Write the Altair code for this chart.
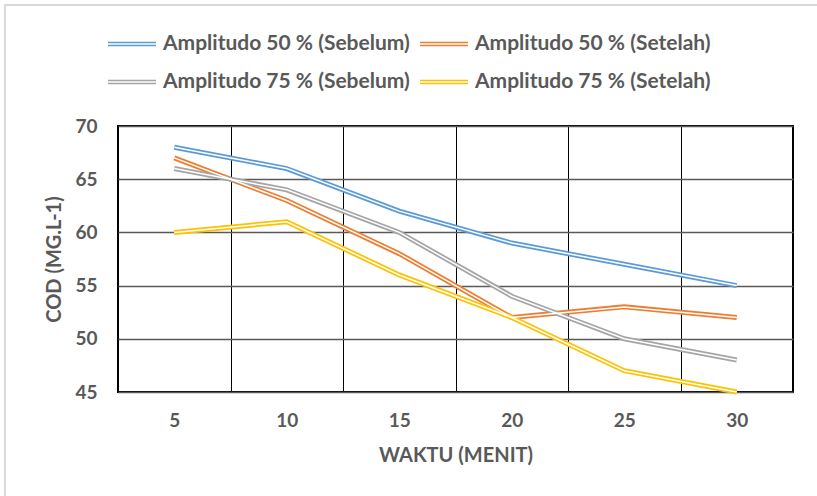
import altair as alt
import pandas as pd

waktu = [5, 10, 15, 20, 25, 30]
series_names = [
    "Amplitudo 50 % (Sebelum)",
    "Amplitudo 50 % (Setelah)",
    "Amplitudo 75 % (Sebelum)",
    "Amplitudo 75 % (Setelah)",
]
a50_sebelum = [68, 66, 62, 59, 57, 55]
a50_setelah = [67, 63, 58, 52, 53, 52]
a75_sebelum = [66, 64, 60, 54, 50, 48]
a75_setelah = [60, 61, 56, 52, 47, 45]
colors = ["#5B9BD5", "#ED7D31", "#A5A5A5", "#FFC000"]
y_ticks = [45, 50, 55, 60, 65, 70]

rows = []
for i, (name, vals) in enumerate(zip(series_names, [a50_sebelum, a50_setelah, a75_sebelum, a75_setelah])):
    for w, v in zip(waktu, vals):
        rows.append({"waktu": w, "cod": v, "series": name, "order": i})
df = pd.DataFrame(rows)

FONT = "Lato"
TXT = "#595959"

x_enc = alt.X(
    "waktu:O",
    scale=alt.Scale(type="band", paddingInner=0, paddingOuter=0),
    bandPosition=0.5,
    axis=alt.Axis(
        title="WAKTU (MENIT)",
        labelAngle=0,
        tickBand="extent",
        grid=True,
        gridColor="#000000",
        gridWidth=1,
        domain=False,
        ticks=False,
        tickSize=0,
        labelPadding=19,
        titlePadding=15,
    ),
)
y_enc = alt.Y(
    "cod:Q",
    scale=alt.Scale(domain=[45, 70], nice=False, zero=False),
    axis=alt.Axis(
        title="COD (MG.L-1)",
        values=y_ticks,
        grid=True,
        gridColor="#595959",
        gridWidth=1.3,
        domain=False,
        ticks=False,
        tickSize=0,
        labelPadding=21,
        titleX=-64,
        titleY=133,
        titleAngle=270,
        titleAlign="center",
        titleBaseline="middle",
    ),
)

base = alt.Chart(df)

colored = base.mark_line(strokeWidth=5, strokeJoin="miter").encode(
    x=x_enc,
    y=y_enc,
    color=alt.Color(
        "series:N",
        scale=alt.Scale(domain=series_names, range=colors),
        legend=alt.Legend(
            title=None,
            orient="none",
            direction="horizontal",
            legendX=-11,
            legendY=-95,
            columns=2,
            symbolType="M-1,-0.125L3,-0.125M-1,0.125L3,0.125",
            symbolSize=576,
            symbolStrokeWidth=1.7,
            labelOffset=30,
            columnPadding=6,
            rowPadding=15,
            labelLimit=0,
        ),
    ),
    detail="series:N",
)

inner = base.mark_line(strokeWidth=1.5, color="white", strokeJoin="miter").encode(
    x=x_enc,
    y=y_enc,
    detail="series:N",
)

border = alt.Chart(alt.Data(values=[{}])).mark_rect(
    fill=None, stroke="#d9d9d9", strokeWidth=2
).encode(
    x=alt.value(-113), y=alt.value(-121), x2=alt.value(720), y2=alt.value(400)
)

chart = (
    alt.layer(border, colored, inner)
    .properties(
        width=675,
        height=266,
        autosize="none",
        padding={"left": 118, "top": 126, "right": 24, "bottom": 104},
    )
    .configure_view(stroke="#000000", strokeWidth=2)
    .configure_axis(
        labelFont=FONT,
        labelFontWeight="bold",
        labelFontSize=19,
        labelColor=TXT,
        titleFont=FONT,
        titleFontWeight="bold",
        titleFontSize=20,
        titleColor=TXT,
    )
    .configure_legend(
        labelFont=FONT,
        labelFontWeight="bold",
        labelFontSize=21,
        labelColor=TXT,
    )
)

chart.save("out.html", embed_options={"renderer": "svg", "actions": False})
